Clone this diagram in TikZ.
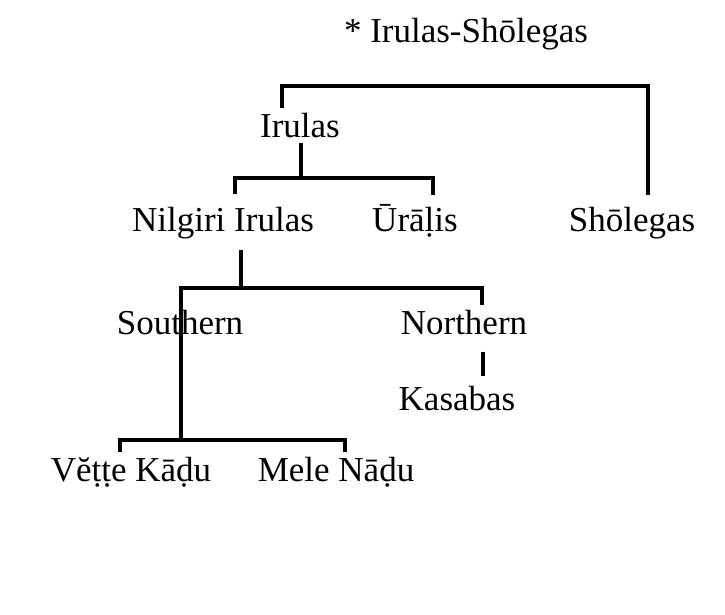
\documentclass[tikz,border=0pt]{standalone}
\usepackage{fontspec}
\setmainfont{Liberation Serif}
\usetikzlibrary{positioning}
\tikzset{
  lang/.style={font=\fontsize{35}{38}\selectfont, inner sep=5pt, anchor=base},
  branch/.style={line width=3.2pt},
}
\begin{document}
\begin{tikzpicture}[x=1pt,y=-1pt]
\useasboundingbox (0,0) rectangle (725,615);
% languages
\node[lang] (root) at (466,43) {* Irulas-Shōlegas};
\node[lang] (irulas) at (300,137) {Irulas};
\node[lang] (nilgiri) at (223,231) {Nilgiri Irulas};
\node[lang] (uralis) at (415,231) {Ūrāḷis};
\node[lang] (sholegas) at (632,231) {Shōlegas};
\node[lang] (southern) at (180,334) {Southern};
\node[lang] (northern) at (464,334) {Northern};
\node[lang] (kasabas) at (457,410) {Kasabas};
\node[lang] (vette) at (131,481) {Vĕṭṭe Kāḍu};
\node[lang] (mele) at (336,481) {Mele Nāḍu};

% bars
\coordinate (rootbar) at (282,86);
\coordinate (irbar) at (301,178);
\coordinate (nibar) at (241,288);
\coordinate (sobar) at (181,440);

\draw[branch] (irulas.north -| rootbar) -- (rootbar) -| ([xshift=16pt,yshift=7pt]sholegas.north);
\draw[branch] (irulas.south -| irbar) -- (irbar);
\draw[branch] ([xshift=12pt,yshift=8pt]nilgiri.north) |- (irbar) -| ([xshift=18pt,yshift=4pt]uralis.north);
\draw[branch, shorten <=6pt] (nilgiri.south -| nibar) -- (nibar);
\draw[branch] (sobar) |- (nibar) -| ([xshift=18pt]northern.north);
\draw[branch, line width=4.5pt, shorten <=12pt, shorten >=5pt] ([xshift=19pt]northern.south) -- ([xshift=19pt]northern.south |- kasabas.north);
\draw[branch] ([xshift=-11pt]vette.north) |- (sobar) -| ([xshift=9pt]mele.north);
\end{tikzpicture}
\end{document}
